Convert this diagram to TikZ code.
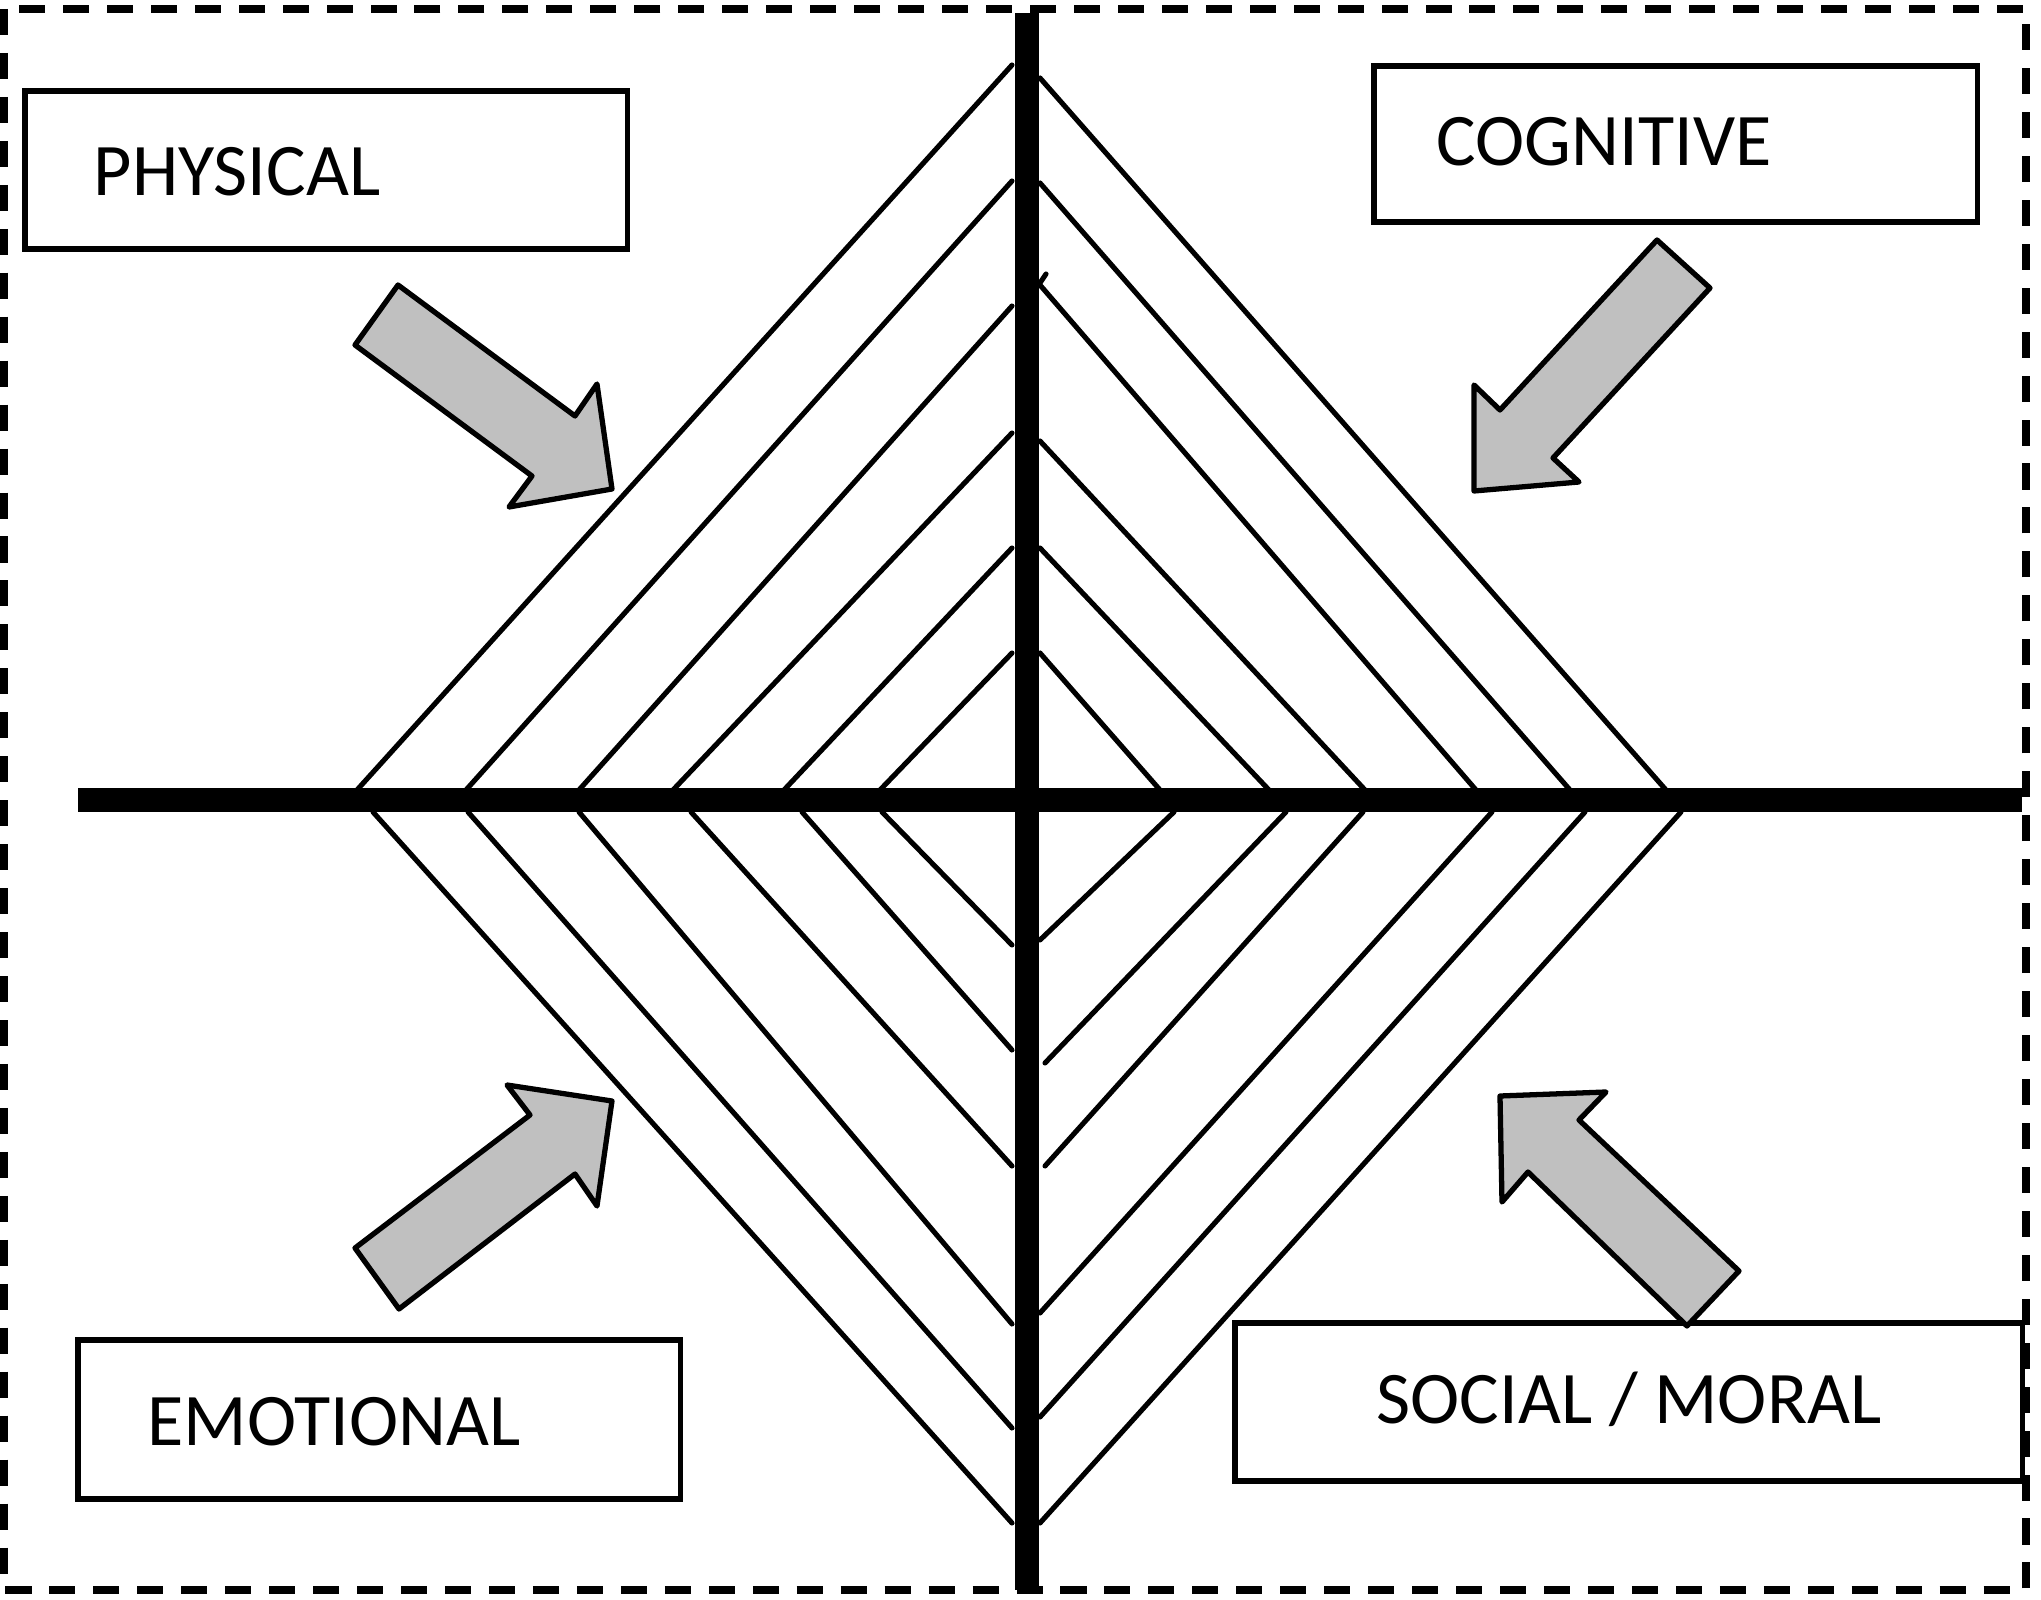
\documentclass[tikz,border=0pt]{standalone}
\usepackage{fontspec}
\setmainfont{Carlito}
\definecolor{arrowgray}{RGB}{192,192,192}
\tikzset{
  thinline/.style={line width=1.45pt, line cap=round},
  axisline/.style={line width=7.1pt},
  frameline/.style={line width=2.2pt, dash pattern=on 7.4pt off 5.1pt},
  labelbox/.style={draw, line width=1.5pt, fill=white, anchor=north west, inner sep=0pt, outer sep=0pt},
  labeltext/.style={anchor=base west, inner sep=0pt, font=\fontsize{21.1}{25}\selectfont},
  blockarrow/.style={draw, fill=arrowgray, line width=1.5pt, line join=round}
}
\begin{document}
\begin{tikzpicture}[x=0.01cm, y=-0.01cm]
\useasboundingbox (0,0) rectangle (2041,1600);
% dashed frame
\draw[frameline] (4,9) rectangle (2026,1590);
% top-left lines
\draw[thinline] (357,790) -- (1012,65);
\draw[thinline] (466,790) -- (1012,181);
\draw[thinline] (579,790) -- (1012,306);
\draw[thinline] (673,790) -- (1012,433);
\draw[thinline] (784,790) -- (1012,548);
\draw[thinline] (880,790) -- (1012,653);
% top-right lines
\draw[thinline] (1040,78) -- (1666,790);
\draw[thinline] (1040,183) -- (1570,790);
\draw[thinline] (1040,285) -- (1476,790);
\draw[thinline] (1040,283) -- (1046,274);
\draw[thinline] (1040,441) -- (1365,790);
\draw[thinline] (1040,548) -- (1269,790);
\draw[thinline] (1040,653) -- (1160,790);
% bottom-left lines
\draw[thinline] (373,812) -- (1012,1523);
\draw[thinline] (468,812) -- (1012,1428);
\draw[thinline] (579,812) -- (1012,1324);
\draw[thinline] (691,812) -- (1012,1166);
\draw[thinline] (802,812) -- (1012,1050);
\draw[thinline] (882,812) -- (1012,945);
% bottom-right lines
\draw[thinline] (1681,812) -- (1040,1523);
\draw[thinline] (1585,812) -- (1040,1417);
\draw[thinline] (1492,812) -- (1040,1313);
\draw[thinline] (1363,812) -- (1045,1166);
\draw[thinline] (1286,812) -- (1045,1063);
\draw[thinline] (1174,812) -- (1040,940);
% axes
\coordinate (hl) at (78,800);
\coordinate (hr) at (2022,800);
\coordinate (vt) at (1027,13);
\coordinate (vb) at (1027,1590);
\draw[axisline] (hl) -- (hr);
\draw[axisline] (vt) -- (vb);
% boxes
\node[labelbox, minimum width=6.02cm, minimum height=1.58cm] (physbox) at (25,91) {};
\node[labelbox, minimum width=6.03cm, minimum height=1.56cm] (cogbox) at (1374,66) {};
\node[labelbox, minimum width=6.02cm, minimum height=1.59cm] (emobox) at (78,1340) {};
\node[labelbox, minimum width=7.87cm, minimum height=1.58cm] (socbox) at (1235,1323) {};
\node[labeltext] (phystext) at (93,196) {PHYSICAL};
\node[labeltext] (cogtext) at (1436,166) {COGNITIVE};
\node[labeltext] (emotext) at (147,1445) {EMOTIONAL};
\node[labeltext] (soctext) at (1376,1423) {SOCIAL / MORAL};
% block arrows
\draw[blockarrow] (398,285) -- (355,345) -- (532,476) -- (509,507) -- (612,489) -- (597,384) -- (575,416) -- cycle;
\draw[blockarrow] (1657,240) -- (1710,288) -- (1553,458) -- (1579,482) -- (1474,491) -- (1474,385) -- (1500,410) -- cycle;
\draw[blockarrow] (355,1248) -- (399,1309) -- (575,1174) -- (597,1206) -- (612,1101) -- (507,1085) -- (530,1115) -- cycle;
\draw[blockarrow] (1500,1096) -- (1606,1092) -- (1579,1120) -- (1739,1271) -- (1687,1326) -- (1528,1172) -- (1502,1202) -- cycle;
\end{tikzpicture}
\end{document}
